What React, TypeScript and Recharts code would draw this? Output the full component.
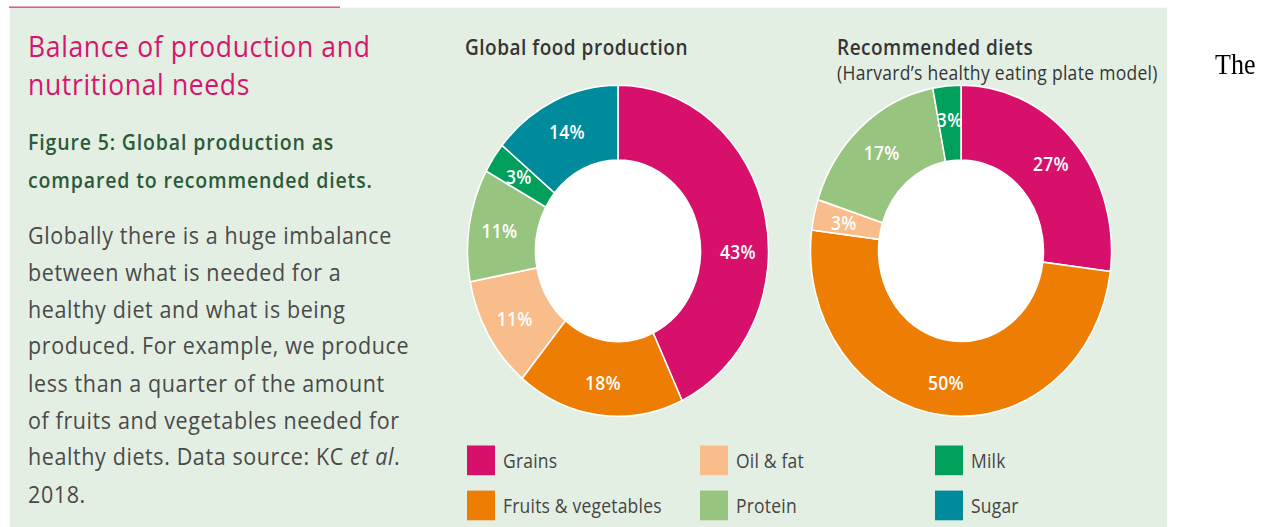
import React from "react";
import { Pie, PieChart } from "recharts";

const CATEGORIES = ["Grains", "Fruits & vegetables", "Oil & fat", "Protein", "Milk", "Sugar"];
const GLOBAL_PRODUCTION = [43, 18, 11, 11, 3, 14];
const RECOMMENDED_DIET = [27, 50, 3, 17, 3, 0];
const COLORS = ["#d6106b", "#ee7d03", "#f8bd8b", "#97c47e", "#00a05c", "#008b9c"];
const HOLE = [{ name: "hole", value: 1 }];

const BODY_LINES = [
  "Globally there is a huge imbalance",
  "between what is needed for a",
  "healthy diet and what is being",
  "produced. For example, we produce",
  "less than a quarter of the amount",
  "of fruits and vegetables needed for",
];

const FONT = "'Open Sans', Lato, sans-serif";
const PANEL = "#e4efe4";
const PINK = "#d6166c";
const RAD = Math.PI / 180;
// the source image is stretched vertically; we lay out unstretched then scale
const STRETCH = 1.1;
const OUTER = 150.5;
const INNER = 82.5;

const toRows = (values: number[]) =>
  CATEGORIES.map((name, i) => ({ name, value: values[i], fill: COLORS[i] }));

function makeLabel(angleOverride: Record<string, number>) {
  return (p: any) => {
    if (!p.value) return null;
    const name = p.payload?.name ?? p.name;
    const angle = angleOverride[name] ?? p.midAngle;
    const r = (p.innerRadius + p.outerRadius) / 2 + 3.5;
    const x = p.cx + r * Math.cos(-angle * RAD);
    const y = p.cy + r * Math.sin(-angle * RAD);
    return (
      <text x={x} y={y} fill="#fff" textAnchor="middle" dominantBaseline="central"
        fontSize={17.5} fontWeight={600} fontFamily={FONT} letterSpacing={0.3}>
        {p.value}%
      </text>
    );
  };
}

function Donut({ values, left, angleOverride }: { values: number[]; left: number; angleOverride: Record<string, number> }) {
  return (
    <div style={{ position: "absolute", left, top: 68.2 }}>
      <PieChart width={320} height={320} margin={{ top: 0, right: 0, bottom: 0, left: 0 }}>
        <Pie data={toRows(values)} dataKey="value" nameKey="name" cx="50%" cy="50%"
          innerRadius={INNER} outerRadius={OUTER} startAngle={90} endAngle={-270}
          stroke="#fff" strokeWidth={1.5} labelLine={false} label={makeLabel(angleOverride)}
          isAnimationActive={false} />
        <Pie data={HOLE} dataKey="value" cx="50%" cy="50%" innerRadius={0} outerRadius={INNER}
          fill="#fff" stroke="none" isAnimationActive={false} />
      </PieChart>
    </div>
  );
}

const abs = (left: number, centerY: number, lh: number): React.CSSProperties => ({
  position: "absolute", left, top: centerY - lh / 2, lineHeight: `${lh}px`, whiteSpace: "nowrap",
});

const titleStyle = { color: PINK, fontSize: 26.5, letterSpacing: 0.65 };
const figStyle = { color: "#2c5a39", fontSize: 19.5, fontWeight: 600, letterSpacing: 0.85 };
const bodyStyle = { color: "#4a4a4a", fontSize: 21.5, letterSpacing: 0.6 };
const headStyle = { color: "#353535", fontSize: 19, fontWeight: 600, letterSpacing: 0.5 };

export default function App() {
  return (
    <div style={{ position: "fixed", left: 0, top: 0, width: 1262, height: 527, overflow: "hidden", background: "#fff" }}>
      <div style={{ position: "absolute", left: 0, top: 0, width: 1262, height: 527 / STRETCH,
        transform: `scaleY(${STRETCH})`, transformOrigin: "0 0", fontFamily: FONT }}>
        <div style={{ position: "absolute", left: 10, top: 7.3, width: 1157, height: 480, background: PANEL }} />
        <div style={{ position: "absolute", left: 9, top: 5.8, width: 331, height: 1, background: PINK }} />

        <div style={{ ...abs(28, 42.7, 33.6), ...titleStyle }}>Balance of production and</div>
        <div style={{ ...abs(28, 76.4, 33.6), ...titleStyle }}>nutritional needs</div>

        <div style={{ ...abs(28, 129, 30), ...figStyle }}>Figure 5: Global production as</div>
        <div style={{ ...abs(28, 163.6, 30), ...figStyle }}>compared to recommended diets.</div>

        {BODY_LINES.map((line, i) => (
          <div key={i} style={{ ...abs(28, 213.6 + i * 33.6, 30), ...bodyStyle }}>{line}</div>
        ))}
        <div style={{ ...abs(28, 213.6 + 6 * 33.6, 30), ...bodyStyle }}>
          healthy diets. Data source: KC <i>et al</i>.
        </div>
        <div style={{ ...abs(28, 213.6 + 7 * 33.6, 30), ...bodyStyle }}>2018.</div>

        <div style={{ ...abs(465, 42.7, 26), ...headStyle }}>Global food production</div>
        <div style={{ ...abs(837, 42.7, 26), ...headStyle }}>Recommended diets</div>
        <div style={{ ...abs(837, 65.5, 22), color: "#353535", fontSize: 17.5, letterSpacing: 0.3 }}>
          (Harvard’s healthy eating plate model)
        </div>

        <Donut values={GLOBAL_PRODUCTION} left={457.5} angleOverride={{ Grains: 0 }} />
        <Donut values={RECOMMENDED_DIET} left={801} angleOverride={{}} />

        {CATEGORIES.map((name, i) => {
          const col = Math.floor(i / 2);
          const row = i % 2;
          const x = [467, 700, 935][col];
          const cy = [418, 459][row];
          return (
            <React.Fragment key={name}>
              <div style={{ position: "absolute", left: x, top: cy - 13.5, width: 28, height: 27, background: COLORS[i] }} />
              <div style={{ ...abs(x + 36, cy, 24), color: "#444", fontSize: 17.5, letterSpacing: 0.2 }}>{name}</div>
            </React.Fragment>
          );
        })}

        <div style={{ ...abs(1215, 59, 30), color: "#000", fontSize: 26, fontFamily: "'Liberation Serif', serif" }}>The</div>
      </div>
    </div>
  );
}
